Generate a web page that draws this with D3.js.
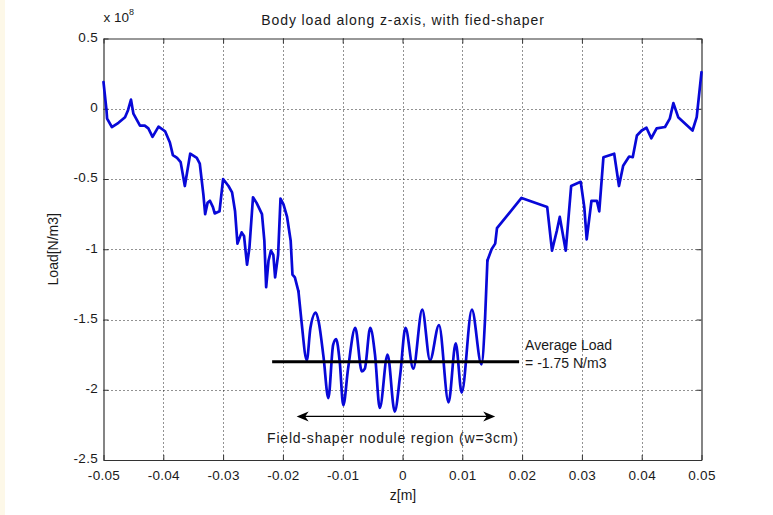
<!DOCTYPE html>
<html>
<head>
<meta charset="utf-8">
<script src="https://cdn.jsdelivr.net/npm/d3@7"></script>
<style>
  html, body { margin: 0; padding: 0; background: #fff; }
  svg { display: block; font-family: "Liberation Sans", Arial, sans-serif; }
</style>
</head>
<body>
<div id="chart"></div>
<script>
// ---- data (z in metres, load in units of 1e8 N/m3) ----------------------
var zVals = [
  -0.0500, -0.0495, -0.0494, -0.0486, -0.0475, -0.0464, -0.0459, -0.0454, -0.0450, -0.0439,
  -0.0431, -0.0425, -0.0418, -0.0408, -0.0397, -0.0389, -0.0384, -0.0377, -0.0371, -0.0364,
  -0.0355, -0.0344, -0.0339, -0.0333, -0.0330, -0.0326, -0.0322, -0.0317, -0.0314, -0.0306,
  -0.0300, -0.0291, -0.0285, -0.0280, -0.0276, -0.0269, -0.0265, -0.0260, -0.0256, -0.0250,
  -0.0244, -0.0235, -0.0231, -0.0228, -0.0224, -0.0220, -0.0216, -0.0213, -0.0208, -0.0204,
  -0.0199, -0.0193, -0.0187, -0.0184, -0.0180, -0.0174, -0.0169, -0.0160, -0.0154, -0.0145,
  -0.0140, -0.0132, -0.0124, -0.0116, -0.0111, -0.0105, -0.0099, -0.0091, -0.0079, -0.0068,
  -0.0063, -0.0054, -0.0046, -0.0038, -0.0025, -0.0013, -0.0004, 0.0005, 0.0018, 0.0033,
  0.0046, 0.0061, 0.0077, 0.0089, 0.0099, 0.0116, 0.0132, 0.0138, 0.0142, 0.0149,
  0.0155, 0.0158, 0.0199, 0.0242, 0.0250, 0.0258, 0.0263, 0.0273, 0.0282, 0.0298,
  0.0304, 0.0308, 0.0316, 0.0325, 0.0329, 0.0336, 0.0354, 0.0362, 0.0369, 0.0379,
  0.0385, 0.0392, 0.0400, 0.0408, 0.0416, 0.0425, 0.0439, 0.0447, 0.0453, 0.0461,
  0.0485, 0.0492, 0.0500
];
var loadVals = [
  0.19, -0.01, -0.07, -0.13, -0.10, -0.06, -0.01, 0.065, -0.035, -0.12,
  -0.12, -0.14, -0.20, -0.127, -0.16, -0.24, -0.33, -0.35, -0.38, -0.55,
  -0.32, -0.35, -0.39, -0.61, -0.75, -0.67, -0.655, -0.70, -0.745, -0.73,
  -0.50, -0.55, -0.595, -0.73, -0.96, -0.88, -0.905, -1.11, -0.99, -0.63,
  -0.67, -0.75, -0.94, -1.27, -1.08, -1.01, -1.04, -1.20, -1.04, -0.64,
  -0.68, -0.77, -0.94, -1.18, -1.20, -1.30, -1.51, -1.79, -1.56, -1.45,
  -1.52, -1.77, -2.06, -1.68, -1.64, -1.80, -2.11, -1.85, -1.56, -1.87,
  -1.85, -1.56, -1.75, -2.13, -1.75, -2.155, -1.90, -1.56, -1.85, -1.43,
  -1.79, -1.54, -2.09, -1.67, -2.02, -1.43, -1.82, -1.50, -1.08, -1.00,
  -0.96, -0.85, -0.635, -0.70, -1.01, -0.87, -0.77, -1.01, -0.55, -0.52,
  -0.70, -0.93, -0.655, -0.655, -0.73, -0.345, -0.32, -0.55, -0.405, -0.34,
  -0.345, -0.19, -0.155, -0.135, -0.21, -0.14, -0.13, -0.07, 0.04, -0.06,
  -0.155, -0.06, 0.26
];
// the nodule stretch oscillates smoothly; the rest is drawn with straight joins
var smoothRange = [-0.0174, 0.0142];
var xTicks = [-0.05, -0.04, -0.03, -0.02, -0.01, 0, 0.01, 0.02, 0.03, 0.04, 0.05];
var xTickLabels = ["-0.05", "-0.04", "-0.03", "-0.02", "-0.01", "0", "0.01", "0.02", "0.03", "0.04", "0.05"];
var yTicks = [0.5, 0, -0.5, -1, -1.5, -2, -2.5];
var yTickLabels = ["0.5", "0", "-0.5", "-1", "-1.5", "-2", "-2.5"];
var avgLineZ = [-0.0218, 0.0195];
var avgLineLoad = -1.80;
var arrowZ = [-0.0177, 0.0155];
var arrowLoad = -2.19;

// ---- layout -------------------------------------------------------------
var W = 773, H = 515;
var L = 103.5, R = 701.5, T = 38.5, B = 460;

var svg = d3.select("#chart").append("svg").attr("width", W).attr("height", H);
svg.append("rect").attr("width", W).attr("height", H).attr("fill", "#fff");
// faint page strip at the far left
svg.append("rect").attr("x", 0).attr("y", 0).attr("width", 5).attr("height", H).attr("fill", "#fdf8e8");

var x = d3.scaleLinear().domain([-0.05, 0.05]).range([L, R]);
var y = d3.scaleLinear().domain([-2.5, 0.5]).range([B, T]);

var ink = "#1a1a1a";

// --- grid (dotted) --------------------------------------------------------
var grid = svg.append("g").attr("stroke", "#000").attr("stroke-width", 1)
  .attr("stroke-dasharray", "1 3").attr("opacity", 0.85);
xTicks.slice(1, -1).forEach(function (t) {
  grid.append("line").attr("x1", Math.round(x(t)) + 0.5).attr("x2", Math.round(x(t)) + 0.5)
    .attr("y1", T).attr("y2", B);
});
yTicks.slice(1, -1).forEach(function (t) {
  grid.append("line").attr("y1", Math.round(y(t)) + 0.5).attr("y2", Math.round(y(t)) + 0.5)
    .attr("x1", L).attr("x2", R);
});

// --- axes: inward ticks on all four sides ------------------------------
var axB = svg.append("g").attr("transform", "translate(0," + B + ")")
  .call(d3.axisBottom(x).tickValues(xTicks).tickSizeInner(-5).tickSizeOuter(0)
    .tickFormat(function (d, i) { return xTickLabels[i]; }));
axB.selectAll("text").attr("dy", null).attr("y", 20);
var axT = svg.append("g").attr("transform", "translate(0," + T + ")")
  .call(d3.axisTop(x).tickValues(xTicks).tickSizeInner(-5).tickSizeOuter(0).tickFormat(""));
var axL = svg.append("g").attr("transform", "translate(" + L + ",0)")
  .call(d3.axisLeft(y).tickValues(yTicks).tickSizeInner(-5).tickSizeOuter(0)
    .tickFormat(function (d, i) { return yTickLabels[i]; }));
axL.selectAll("text").attr("x", -5.5).attr("dy", "0.22em");
var axR = svg.append("g").attr("transform", "translate(" + R + ",0)")
  .call(d3.axisRight(y).tickValues(yTicks).tickSizeInner(-5).tickSizeOuter(0).tickFormat(""));

[axB, axT, axL, axR].forEach(function (a) {
  a.select(".domain").attr("stroke", "#333").attr("stroke-width", 1.2);
  a.selectAll(".tick line").attr("stroke", "#333");
  a.selectAll("text").attr("fill", ink).style("font-size", "13.5px")
    .style("letter-spacing", "0.3px")
    .style("font-family", "'Liberation Sans', Arial, sans-serif");
});

// --- series -------------------------------------------------------------
var pts = zVals.map(function (z, i) { return [z, loadVals[i]]; });
var inMid = function (d) { return d[0] >= smoothRange[0] && d[0] <= smoothRange[1]; };
var leftPts = pts.filter(function (d) { return d[0] <= smoothRange[0]; });
var midPts = pts.filter(inMid);
var rightPts = pts.filter(function (d) { return d[0] >= smoothRange[1]; });

var straight = d3.line().x(function (d) { return x(d[0]); }).y(function (d) { return y(d[1]); });
var smooth = d3.line().curve(d3.curveMonotoneX)
  .x(function (d) { return x(d[0]); }).y(function (d) { return y(d[1]); });

[[leftPts, straight], [midPts, smooth], [rightPts, straight]].forEach(function (s) {
  svg.append("path").datum(s[0]).attr("d", s[1])
    .attr("fill", "none").attr("stroke", "#0808d8").attr("stroke-width", 2.7)
    .attr("stroke-linejoin", "round").attr("stroke-linecap", "round");
});

// --- average load line ---------------------------------------------------
svg.append("line")
  .attr("x1", x(avgLineZ[0])).attr("x2", x(avgLineZ[1]))
  .attr("y1", y(avgLineLoad)).attr("y2", y(avgLineLoad))
  .attr("stroke", "#000").attr("stroke-width", 3);
svg.append("text").attr("x", x(avgLineZ[1]) + 6).attr("y", y(avgLineLoad) - 12)
  .attr("fill", ink).style("font-size", "14px").text("Average Load");
svg.append("text").attr("x", x(avgLineZ[1]) + 6).attr("y", y(avgLineLoad) + 6)
  .attr("fill", ink).style("font-size", "14px").text("= -1.75 N/m3");

// --- double arrow for nodule region --------------------------------------
var ay = y(arrowLoad), ax1 = x(arrowZ[0]), ax2 = x(arrowZ[1]);
svg.append("line").attr("x1", ax1 + 4).attr("x2", ax2 - 4).attr("y1", ay).attr("y2", ay)
  .attr("stroke", "#000").attr("stroke-width", 1.2);
function head(tx, dir) {
  var p = [[tx, ay], [tx + dir * 12, ay - 5], [tx + dir * 8.5, ay], [tx + dir * 12, ay + 5]];
  svg.append("path").attr("d", "M" + p.join("L") + "Z").attr("fill", "#000");
}
head(ax1, 1);
head(ax2, -1);
svg.append("text").attr("x", (ax1 + ax2) / 2 - 3).attr("y", ay + 27).attr("text-anchor", "middle")
  .attr("fill", ink).style("font-size", "14px").style("letter-spacing", "0.8px")
  .text("Field-shaper nodule region (w=3cm)");

// --- titles ---------------------------------------------------------------
svg.append("text").attr("x", 403).attr("y", 25).attr("text-anchor", "middle")
  .attr("fill", ink).style("font-size", "14px").style("letter-spacing", "0.9px")
  .text("Body load along z-axis, with fied-shaper");
var ex = svg.append("text").attr("x", L).attr("y", 22).attr("fill", ink).style("font-size", "13.5px");
ex.append("tspan").text("x 10");
ex.append("tspan").attr("dy", -7).style("font-size", "9px").text("8");
svg.append("text").attr("x", 403).attr("y", 500).attr("text-anchor", "middle")
  .attr("fill", ink).style("font-size", "14px").text("z[m]");
svg.append("text").attr("transform", "translate(58," + ((T + B) / 2) + ") rotate(-90)")
  .attr("text-anchor", "middle").attr("fill", ink).style("font-size", "14px").text("Load[N/m3]");
</script>
</body>
</html>
